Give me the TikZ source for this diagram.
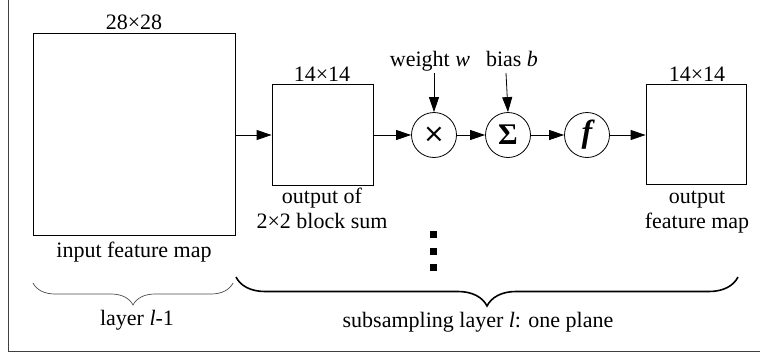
\documentclass[tikz,border=0pt]{standalone}
\usepackage{fontspec}
\setmainfont{Liberation Serif}
\newfontfamily\symfont{DejaVu Sans}
\usetikzlibrary{arrows.meta,decorations.pathreplacing}
\begin{document}
\begin{tikzpicture}[x=1pt,y=-1pt,
  every node/.style={font=\fontsize{22}{24}\selectfont},
  mapbox/.style={draw,line width=0.8pt,inner sep=0pt,minimum size=#1},
  opcirc/.style={draw,circle,line width=0.8pt,inner sep=0pt,minimum size=45pt},
  arr/.style={line width=0.8pt,-{Triangle[length=15pt,width=10pt]}},
  lbl/.style={anchor=base},
  dotsq/.style={fill,inner sep=0pt,minimum size=7pt}]
\useasboundingbox (0,0) rectangle (760,354);
\draw[line width=1pt,black!75] (8,0) -- (8,351) -- (760,351);
% maps
\node[mapbox=202pt] (big) at (134,134) {};
\node[mapbox=101pt] (small) at (322.5,134.5) {};
\node[mapbox=100pt] (out) at (696,134.5) {};
% operators
\node[opcirc] (mul) at (434,135) {\symfont\fontsize{26}{26}\selectfont ×};
\node[opcirc] (sum) at (508,135) {\fontsize{30}{30}\selectfont\bfseries Σ};
\node[opcirc] (fn) at (587,135) {\fontsize{32}{32}\selectfont\bfseries\itshape f};
% labels
\node[lbl] (l28) at (134,29) {28×28};
\node[lbl] (l14a) at (322,81) {14×14};
\node[lbl] (l14b) at (697,81) {14×14};
\node[lbl] (lw) at (430,66) {weight \textit{w}};
\node[lbl] (lb) at (512,66) {bias \textit{b}};
\coordinate (wtop) at (434,73);
\coordinate (btop) at (506,73);
\node[lbl] (o1) at (322,203) {output of};
\node[lbl] (o2) at (322,228) {2×2 block sum};
\node[lbl] (f1) at (697,203) {output};
\node[lbl] (f2) at (697,228) {feature map};
\node[lbl] (inp) at (134,257) {input feature map};
\node[lbl] (lay) at (137,325) {layer \textit{l}-1};
\node[lbl] (sub) at (478,327) {subsampling layer \textit{l}: one plane};
% dots
\node[dotsq] (d1) at (433,234) {};
\node[dotsq] (d2) at (433,251) {};
\node[dotsq] (d3) at (433,267) {};
% arrows
\draw[arr] (big.east |- 0,135) -- (small.west |- 0,135);
\draw[arr] (small.east |- 0,135) -- (mul.west);
\draw[arr] (mul) -- (sum);
\draw[arr] (sum) -- (fn);
\draw[arr] (fn) -- (out.west |- fn);
\draw[arr] (wtop) -- (mul.north);
\draw[arr] (btop) -- (sum.north);
% braces
\coordinate (lb1) at (33,283);
\coordinate (lb2) at (233,283);
\coordinate (rb1) at (236,277);
\coordinate (rb2) at (738,277);
\draw[line width=0.7pt,black!70,decorate,decoration={brace,mirror,amplitude=22pt}] (lb1) -- (lb2);
\draw[line width=1.6pt,decorate,decoration={brace,mirror,amplitude=29pt}] (rb1) -- (rb2);
\end{tikzpicture}
\end{document}
